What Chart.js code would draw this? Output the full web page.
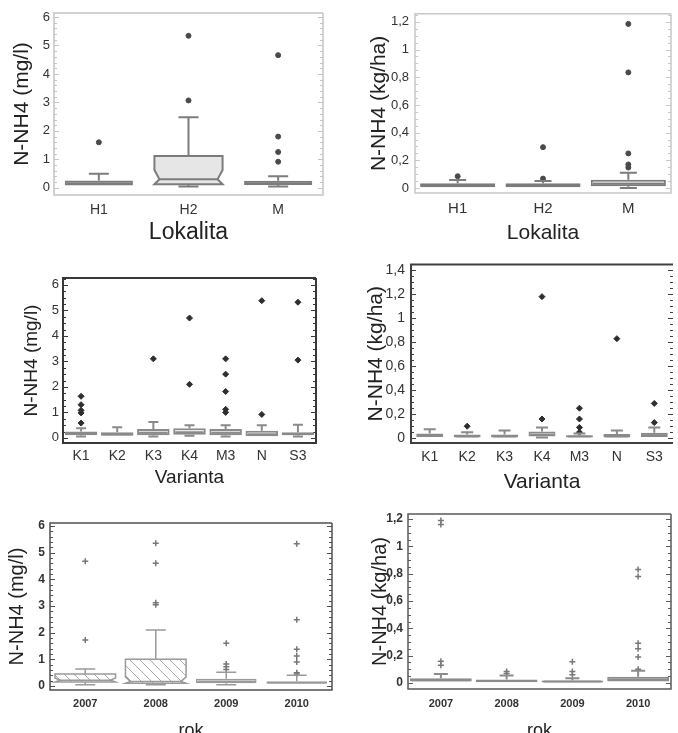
<!DOCTYPE html>
<html>
<head>
<meta charset="utf-8">
<script src="https://cdn.jsdelivr.net/npm/chart.js@4.4.1/dist/chart.umd.min.js"></script>
<style>
  body { margin: 0; background: #fff; width: 678px; height: 733px; overflow: hidden; position: relative; }
  canvas { position: absolute; }
</style>
</head>
<body>
<canvas id="lokMg"></canvas>
<canvas id="lokKg"></canvas>
<canvas id="varMg"></canvas>
<canvas id="varKg"></canvas>
<canvas id="rokMg"></canvas>
<canvas id="rokKg"></canvas>
<script>
// kategorie
const lokality = ['H1', 'H2', 'M'];
const varianty = ['K1', 'K2', 'K3', 'K4', 'M3', 'N', 'S3'];
const roky = ['2007', '2008', '2009', '2010'];

// popisky osy y
const ticksMg = [0, 1, 2, 3, 4, 5, 6];
const ticksKg12 = [0, 0.2, 0.4, 0.6, 0.8, 1, 1.2];
const ticksKg14 = [0, 0.2, 0.4, 0.6, 0.8, 1, 1.2, 1.4];

// N-NH4 (mg/l) podle lokality
const lokMgLo = [0.05, 0.05, 0.05];
const lokMgQ1 = [0.08, 0.13, 0.1];
const lokMgMed = [0.16, 0.3, 0.16];
const lokMgQ3 = [0.26, 1.12, 0.25];
const lokMgHi = [0.5, 2.48, 0.41];
const lokMgNotchLo = [null, 0.13, null];
const lokMgNotchHi = [null, 0.63, null];
const lokMgOut = [[1.6], [0.98, 3.07, 5.34], [0.92, 1.26, 1.8, 4.66]];

// N-NH4 (kg/ha) podle lokality
const lokKgLo = [0, 0, 0];
const lokKgQ1 = [0.005, 0.005, 0.012];
const lokKgMed = [0.018, 0.018, 0.03];
const lokKgQ3 = [0.035, 0.035, 0.06];
const lokKgHi = [0.058, 0.05, 0.11];
const lokKgOut = [[0.085], [0.068, 0.295], [0.148, 0.17, 0.25, 0.835, 1.185]];

// N-NH4 (mg/l) podle varianty
const varMgLo = [0.05, 0.05, 0.05, 0.08, 0.05, 0.03, 0.05];
const varMgQ1 = [0.1, 0.08, 0.1, 0.12, 0.1, 0.06, 0.1];
const varMgMed = [0.16, 0.14, 0.2, 0.22, 0.2, 0.14, 0.15];
const varMgQ3 = [0.25, 0.22, 0.35, 0.38, 0.35, 0.28, 0.22];
const varMgHi = [0.38, 0.42, 0.62, 0.5, 0.5, 0.5, 0.52];
const varMgOut = [[0.58, 0.98, 1.08, 1.3, 1.63], [], [3.1], [2.1, 4.7], [1.0, 1.12, 1.82, 2.5, 3.1], [0.92, 5.38], [3.05, 5.32]];

// N-NH4 (kg/ha) podle varianty
const varKgLo = [0.005, 0, 0, 0.005, 0, 0, 0.005];
const varKgQ1 = [0.01, 0.005, 0.005, 0.015, 0.005, 0.005, 0.01];
const varKgMed = [0.025, 0.015, 0.015, 0.03, 0.015, 0.015, 0.025];
const varKgQ3 = [0.04, 0.03, 0.03, 0.055, 0.025, 0.035, 0.045];
const varKgHi = [0.075, 0.05, 0.065, 0.09, 0.04, 0.065, 0.09];
const varKgOut = [[], [0.1], [], [0.16, 1.18], [0.05, 0.09, 0.16, 0.25], [0.83], [0.13, 0.29]];

// N-NH4 (mg/l) podle roku
const rokMgLo = [0.05, 0.05, 0.05, 0.05];
const rokMgQ1 = [0.15, 0.1, 0.1, 0.08];
const rokMgMed = [0.22, 0.17, 0.18, 0.12];
const rokMgQ3 = [0.45, 1.0, 0.27, 0.18];
const rokMgHi = [0.64, 2.1, 0.52, 0.4];
const rokMgNotchLo = [0.15, 0.1, null, null];
const rokMgNotchHi = [0.3, 0.34, null, null];
const rokMgOut = [[1.72, 4.68], [0.72, 3.05, 3.12, 4.6, 5.35], [0.62, 0.72, 0.82, 1.6], [0.45, 0.5, 0.9, 1.12, 1.38, 2.48, 5.33]];

// N-NH4 (kg/ha) podle roku
const rokKgLo = [0.005, 0, 0, 0.005];
const rokKgQ1 = [0.01, 0.005, 0.003, 0.01];
const rokKgMed = [0.02, 0.015, 0.01, 0.025];
const rokKgQ3 = [0.035, 0.025, 0.018, 0.045];
const rokKgHi = [0.065, 0.055, 0.035, 0.09];
const rokKgOut = [[0.13, 0.16, 1.16, 1.19], [0.07, 0.085], [0.06, 0.085, 0.155], [0.1, 0.19, 0.25, 0.29, 0.78, 0.83]];

const FONT = "'Liberation Sans', Arial, sans-serif";

// šrafování pro krabice z let 2007 a 2008
function hatch() {
    const c = document.createElement('canvas');
    c.width = 10; c.height = 10;
    const g = c.getContext('2d');
    g.fillStyle = '#fff';
    g.fillRect(0, 0, 10, 10);
    g.strokeStyle = '#a8a8a8';
    g.lineWidth = 1;
    g.beginPath();
    g.moveTo(-1, -1); g.lineTo(11, 11);
    g.moveTo(-6, 4); g.lineTo(6, 16);
    g.moveTo(4, -6); g.lineTo(16, 6);
    g.stroke();
    return g.createPattern(c, 'repeat');
}

const num = v => String(Math.round(v * 10) / 10).replace('.', ',');

function boxPanel(id, d, s) {
    const cv = document.getElementById(id);
    cv.width = s.box.w;
    cv.height = s.box.h;
    cv.style.left = s.box.x + 'px';
    cv.style.top = s.box.y + 'px';

    const notched = i => d.notchLo && d.notchLo[i] != null;
    const fillOf = i => (s.fills && s.fills[i]) || s.fill;

    const boxes = d.q1.map((v, i) => [v, d.q3[i]]);
    const points = [];
    d.out.forEach((vals, i) => vals.forEach(v => points.push({ x: d.labels[i], y: v })));

    const yLh = s.yTitleSize * 1.2;
    const xLh = s.xTitleSize * 1.2;

    // rámeček grafu a drobné značky na svislých stranách
    const frame = {
        id: 'frame',
        beforeDatasetsDraw(chart) {
            const { ctx, chartArea: a } = chart;
            const y = chart.scales.y;
            ctx.save();
            ctx.strokeStyle = s.frame;
            ctx.lineWidth = s.frameW;
            ctx.beginPath();
            ctx.moveTo(a.right, a.top); ctx.lineTo(a.left, a.top);
            ctx.lineTo(a.left, a.bottom); ctx.lineTo(a.right, a.bottom);
            if (!s.openRight) ctx.lineTo(a.right, a.top);
            ctx.stroke();
            ctx.lineWidth = 1;
            const step = (d.ticks[1] - d.ticks[0]) / s.minor;
            for (let k = 0; k * step <= y.max; k++) {
                const py = Math.round(y.getPixelForValue(k * step)) + 0.5;
                const len = k % s.minor === 0 ? 5 : 3;
                ctx.beginPath();
                ctx.moveTo(a.left, py); ctx.lineTo(a.left + len, py);
                ctx.moveTo(a.right, py); ctx.lineTo(a.right - len, py);
                ctx.stroke();
            }
            ctx.restore();
        }
    };

    // vousy, mediány a krabice se zářezem
    const whiskers = {
        id: 'whiskers',
        afterDatasetsDraw(chart) {
            const { ctx } = chart;
            const y = chart.scales.y;
            const bars = chart.getDatasetMeta(0).data;
            ctx.save();
            ctx.strokeStyle = s.stroke;
            ctx.lineWidth = s.lw;
            bars.forEach((bar, i) => {
                const cx = bar.x;
                const x0 = cx - bar.width / 2, x1 = cx + bar.width / 2;
                const pq1 = y.getPixelForValue(d.q1[i]);
                const pq3 = y.getPixelForValue(d.q3[i]);
                const pMed = y.getPixelForValue(d.med[i]);
                const pHi = y.getPixelForValue(d.hi[i]);
                const pLo = y.getPixelForValue(d.lo[i]);
                const cap = s.cap / 2;
                ctx.beginPath();
                ctx.moveTo(cx, pq3); ctx.lineTo(cx, pHi);
                ctx.moveTo(cx - cap, pHi); ctx.lineTo(cx + cap, pHi);
                if (pLo - pq1 > 1) {
                    ctx.moveTo(cx, pq1); ctx.lineTo(cx, pLo);
                    ctx.moveTo(cx - cap, pLo); ctx.lineTo(cx + cap, pLo);
                }
                ctx.stroke();
                if (notched(i)) {
                    const nLo = y.getPixelForValue(d.notchLo[i]);
                    const nHi = y.getPixelForValue(d.notchHi[i]);
                    const ind = s.notch;
                    ctx.beginPath();
                    ctx.moveTo(x0, pq3); ctx.lineTo(x1, pq3);
                    ctx.lineTo(x1, nHi); ctx.lineTo(x1 - ind, pMed);
                    ctx.lineTo(x1, nLo); ctx.lineTo(x1, pq1);
                    ctx.lineTo(x0, pq1); ctx.lineTo(x0, nLo);
                    ctx.lineTo(x0 + ind, pMed); ctx.lineTo(x0, nHi);
                    ctx.closePath();
                    ctx.fillStyle = fillOf(i);
                    ctx.fill();
                    ctx.stroke();
                    ctx.beginPath();
                    ctx.moveTo(x0 + ind, pMed); ctx.lineTo(x1 - ind, pMed);
                    ctx.stroke();
                } else {
                    ctx.beginPath();
                    ctx.moveTo(x0 + s.lw, pMed); ctx.lineTo(x1 - s.lw, pMed);
                    ctx.stroke();
                }
            });
            ctx.restore();
        }
    };

    return new Chart(cv, {
        type: 'bar',
        data: {
            labels: d.labels,
            datasets: [{
                data: boxes,
                backgroundColor: c => notched(c.dataIndex) ? 'rgba(0,0,0,0)' : fillOf(c.dataIndex),
                borderColor: c => notched(c.dataIndex) ? 'rgba(0,0,0,0)' : s.stroke,
                borderWidth: s.lw,
                borderSkipped: false,
                barPercentage: s.bar,
                categoryPercentage: 1,
                order: 2
            }, {
                type: 'line',
                data: points,
                showLine: false,
                pointStyle: s.pt.style,
                pointRadius: s.pt.r,
                pointBackgroundColor: s.pt.color,
                pointBorderColor: s.pt.color,
                pointBorderWidth: s.pt.bw,
                order: 1
            }]
        },
        options: {
            responsive: false,
            animation: false,
            devicePixelRatio: 1,
            events: [],
            layout: {
                padding: {
                    top: s.plot.t - s.box.y,
                    right: s.box.x + s.box.w - s.plot.r,
                    left: 0,
                    bottom: 0
                }
            },
            plugins: { legend: { display: false }, tooltip: { enabled: false } },
            scales: {
                x: {
                    grid: { display: false, drawTicks: false },
                    border: { display: false },
                    ticks: { font: { family: FONT, size: s.xTick, weight: s.tickWeight }, color: '#333', padding: s.xPad },
                    title: {
                        display: true,
                        text: d.xTitle,
                        color: '#222',
                        font: { family: FONT, size: s.xTitleSize },
                        padding: { top: 0, bottom: s.box.y + s.box.h - s.xTitleY - xLh / 2 }
                    },
                    afterFit: sc => { sc.height = s.box.y + s.box.h - s.plot.b; }
                },
                y: {
                    min: d.yMin,
                    max: d.yMax,
                    grid: { display: false, drawTicks: false },
                    border: { display: false },
                    afterBuildTicks: sc => { sc.ticks = d.ticks.map(v => ({ value: v })); },
                    ticks: {
                        callback: v => num(v),
                        font: { family: FONT, size: s.yTick, weight: s.tickWeight },
                        color: '#333',
                        padding: s.yPad
                    },
                    title: {
                        display: true,
                        text: d.yTitle,
                        color: '#222',
                        font: { family: FONT, size: s.yTitleSize },
                        padding: { top: s.yTitleX - s.box.x - yLh / 2, bottom: 0 }
                    },
                    afterFit: sc => { sc.width = s.plot.l - s.box.x; }
                }
            }
        },
        plugins: [frame, whiskers]
    });
}

const hatchFill = hatch();
const darkPt = { style: 'circle', r: 2.5, color: '#4a4a4a', bw: 1 };
const starPt = { style: 'rectRot', r: 3, color: '#2e2e2e', bw: 1 };
const crossPt = { style: 'cross', r: 3, color: '#777', bw: 1.5 };

boxPanel('lokMg', {
    labels: lokality, ticks: ticksMg, yMin: -0.25, yMax: 6.14,
    lo: lokMgLo, q1: lokMgQ1, med: lokMgMed, q3: lokMgQ3, hi: lokMgHi,
    notchLo: lokMgNotchLo, notchHi: lokMgNotchHi, out: lokMgOut,
    xTitle: 'Lokalita', yTitle: 'N-NH4 (mg/l)'
}, {
    box: { x: 0, y: 0, w: 339, h: 250 }, plot: { l: 54, t: 13, r: 323, b: 195 },
    yTitleX: 22, xTitleY: 233, yTitleSize: 21, xTitleSize: 23,
    yTick: 13, xTick: 14, yPad: 4, xPad: 7,
    bar: 0.76, cap: 20, notch: 5, lw: 2, stroke: '#7c7c7c', fill: '#e6e6e6',
    frame: '#c4c4c4', frameW: 1.5, minor: 5, pt: darkPt
});

boxPanel('lokKg', {
    labels: lokality, ticks: ticksKg12, yMin: -0.036, yMax: 1.258,
    lo: lokKgLo, q1: lokKgQ1, med: lokKgMed, q3: lokKgQ3, hi: lokKgHi, out: lokKgOut,
    xTitle: 'Lokalita', yTitle: 'N-NH4 (kg/ha)'
}, {
    box: { x: 339, y: 0, w: 339, h: 250 }, plot: { l: 415, t: 13, r: 671, b: 193 },
    yTitleX: 379, xTitleY: 233, yTitleSize: 21, xTitleSize: 21,
    yTick: 13, xTick: 15, yPad: 6, xPad: 7,
    bar: 0.88, cap: 17, lw: 2, stroke: '#7c7c7c', fill: '#e6e6e6',
    frame: '#c8c8c8', frameW: 1.5, minor: 4, pt: darkPt
});

boxPanel('varMg', {
    labels: varianty, ticks: ticksMg, yMin: -0.2, yMax: 6.27,
    lo: varMgLo, q1: varMgQ1, med: varMgMed, q3: varMgQ3, hi: varMgHi, out: varMgOut,
    xTitle: 'Varianta', yTitle: 'N-NH4 (mg/l)'
}, {
    box: { x: 0, y: 250, w: 339, h: 250 }, plot: { l: 63, t: 278, r: 316, b: 443 },
    yTitleX: 32, xTitleY: 478, yTitleSize: 19, xTitleSize: 19,
    yTick: 13, xTick: 14, yPad: 4, xPad: 5,
    bar: 0.9, cap: 10, lw: 2, stroke: '#8a8a8a', fill: '#ececec',
    frame: '#383838', frameW: 2, minor: 4, pt: starPt
});

boxPanel('varKg', {
    labels: varianty, ticks: ticksKg14, yMin: -0.04, yMax: 1.449,
    lo: varKgLo, q1: varKgQ1, med: varKgMed, q3: varKgQ3, hi: varKgHi, out: varKgOut,
    xTitle: 'Varianta', yTitle: 'N-NH4 (kg/ha)'
}, {
    box: { x: 339, y: 250, w: 339, h: 250 }, plot: { l: 411, t: 259, r: 677, b: 443 },
    yTitleX: 376, xTitleY: 482, yTitleSize: 21, xTitleSize: 21,
    yTick: 14, xTick: 14, yPad: 6, xPad: 6,
    bar: 0.72, cap: 12, lw: 2, stroke: '#8a8a8a', fill: '#ececec',
    frame: '#404040', frameW: 2, minor: 4, openRight: true, pt: starPt
});

boxPanel('rokMg', {
    labels: roky, ticks: ticksMg, yMin: -0.15, yMax: 6.11,
    lo: rokMgLo, q1: rokMgQ1, med: rokMgMed, q3: rokMgQ3, hi: rokMgHi,
    notchLo: rokMgNotchLo, notchHi: rokMgNotchHi, out: rokMgOut,
    xTitle: 'rok', yTitle: 'N-NH4 (mg/l)'
}, {
    box: { x: 0, y: 500, w: 339, h: 233 }, plot: { l: 50, t: 523, r: 332, b: 690 },
    yTitleX: 17, xTitleY: 731, yTitleSize: 20, xTitleSize: 18,
    yTick: 12, xTick: 11, tickWeight: 'bold', yPad: 5, xPad: 7,
    bar: 0.86, cap: 20, notch: 5, lw: 1.5, stroke: '#9a9a9a', fill: '#f6f6f6',
    fills: [hatchFill, hatchFill, null, null],
    frame: '#505050', frameW: 1.5, minor: 5, pt: crossPt
});

boxPanel('rokKg', {
    labels: roky, ticks: ticksKg12, yMin: -0.044, yMax: 1.237,
    lo: rokKgLo, q1: rokKgQ1, med: rokKgMed, q3: rokKgQ3, hi: rokKgHi, out: rokKgOut,
    xTitle: 'rok', yTitle: 'N-NH4 (kg/ha)'
}, {
    box: { x: 339, y: 500, w: 339, h: 233 }, plot: { l: 408, t: 514, r: 671, b: 689 },
    yTitleX: 380, xTitleY: 731, yTitleSize: 20, xTitleSize: 18,
    yTick: 12, xTick: 11, tickWeight: 'bold', yPad: 5, xPad: 8,
    bar: 0.94, cap: 14, lw: 2, stroke: '#8c8c8c', fill: '#ededed',
    frame: '#5a5a5a', frameW: 1.5, minor: 4, pt: crossPt
});
</script>
</body>
</html>
